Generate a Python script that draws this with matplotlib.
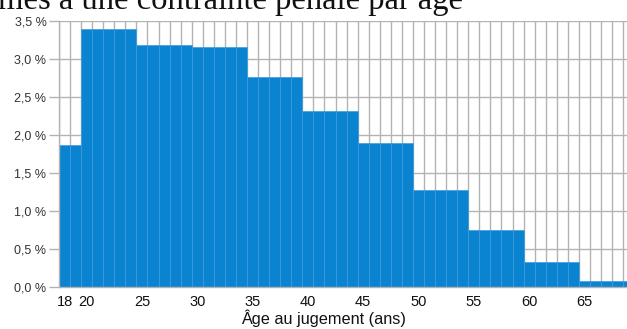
import matplotlib

matplotlib.use("Agg")
import matplotlib.pyplot as plt
from matplotlib.ticker import FixedLocator, FuncFormatter

plt.rcParams["font.family"] = ["Liberation Sans", "DejaVu Sans"]

# part des condamnés (%) pour chaque âge au jugement
ages = list(range(18, 70))
share = [
    1.87, 1.87,
    3.39, 3.39, 3.39, 3.39, 3.39,
    3.19, 3.19, 3.19, 3.19, 3.19,
    3.16, 3.16, 3.16, 3.16, 3.16,
    2.76, 2.76, 2.76, 2.76, 2.76,
    2.31, 2.31, 2.31, 2.31, 2.31,
    1.90, 1.90, 1.90, 1.90, 1.90,
    1.27, 1.27, 1.27, 1.27, 1.27,
    0.75, 0.75, 0.75, 0.75, 0.75,
    0.33, 0.33, 0.33, 0.33, 0.33,
    0.08, 0.08, 0.08, 0.08, 0.08,
]
age_ticks = [18, 20, 25, 30, 35, 40, 45, 50, 55, 60, 65]
pct_ticks = [0, 0.5, 1.0, 1.5, 2.0, 2.5, 3.0, 3.5]
title = "mes à une contrainte pénale par âge"

fig = plt.figure(figsize=(6.27, 3.29), dpi=100)
ax = fig.add_axes([59 / 627, 1 - 287 / 329, 1 - 59 / 627, (287 - 21) / 329])

ax.bar(ages, share, width=1.0, color="#0a83d1", edgecolor="#3f9ddf", lw=0.5, zorder=3)

ax.set_xlim(17.5, 68.85)
ax.set_ylim(0, 3.5)
ax.xaxis.set_major_locator(FixedLocator(age_ticks))
ax.xaxis.set_minor_locator(FixedLocator([a - 0.5 for a in ages] + [ages[-1] + 0.5]))
ax.yaxis.set_major_locator(FixedLocator(pct_ticks))
ax.yaxis.set_major_formatter(FuncFormatter(lambda v, _: f"{v:.1f} %".replace(".", ",")))

ax.grid(axis="y", which="major", color="#b3b3b3", lw=1.0, zorder=0)
ax.grid(axis="x", which="minor", color="#b3b3b3", lw=1.0, zorder=0)
ax.set_axisbelow(True)

for s in ("top", "right"):
    ax.spines[s].set_visible(False)
for s in ("left", "bottom"):
    ax.spines[s].set_color("#b3b3b3")
    ax.spines[s].set_linewidth(1.0)
    ax.spines[s].set_zorder(4)

ax.tick_params(axis="y", length=7, width=1.0, color="#b3b3b3", labelsize=9, labelcolor="#333333", pad=2)
ax.tick_params(axis="x", which="both", length=0, labelsize=10.5, labelcolor="#111111", pad=6)
ax.set_xlabel("Âge au jugement (ans)", fontsize=11.7, color="#111111", labelpad=0)
ax.xaxis.set_label_coords(0.465, -0.085)
ax.xaxis.label.set_va("top")

fig.text(-0.003, 1 - 9 / 329, title, family=["Liberation Serif", "DejaVu Serif"],
         fontsize=23.5, va="baseline", ha="left", color="#111111")

fig.savefig("out.png", dpi=100)
